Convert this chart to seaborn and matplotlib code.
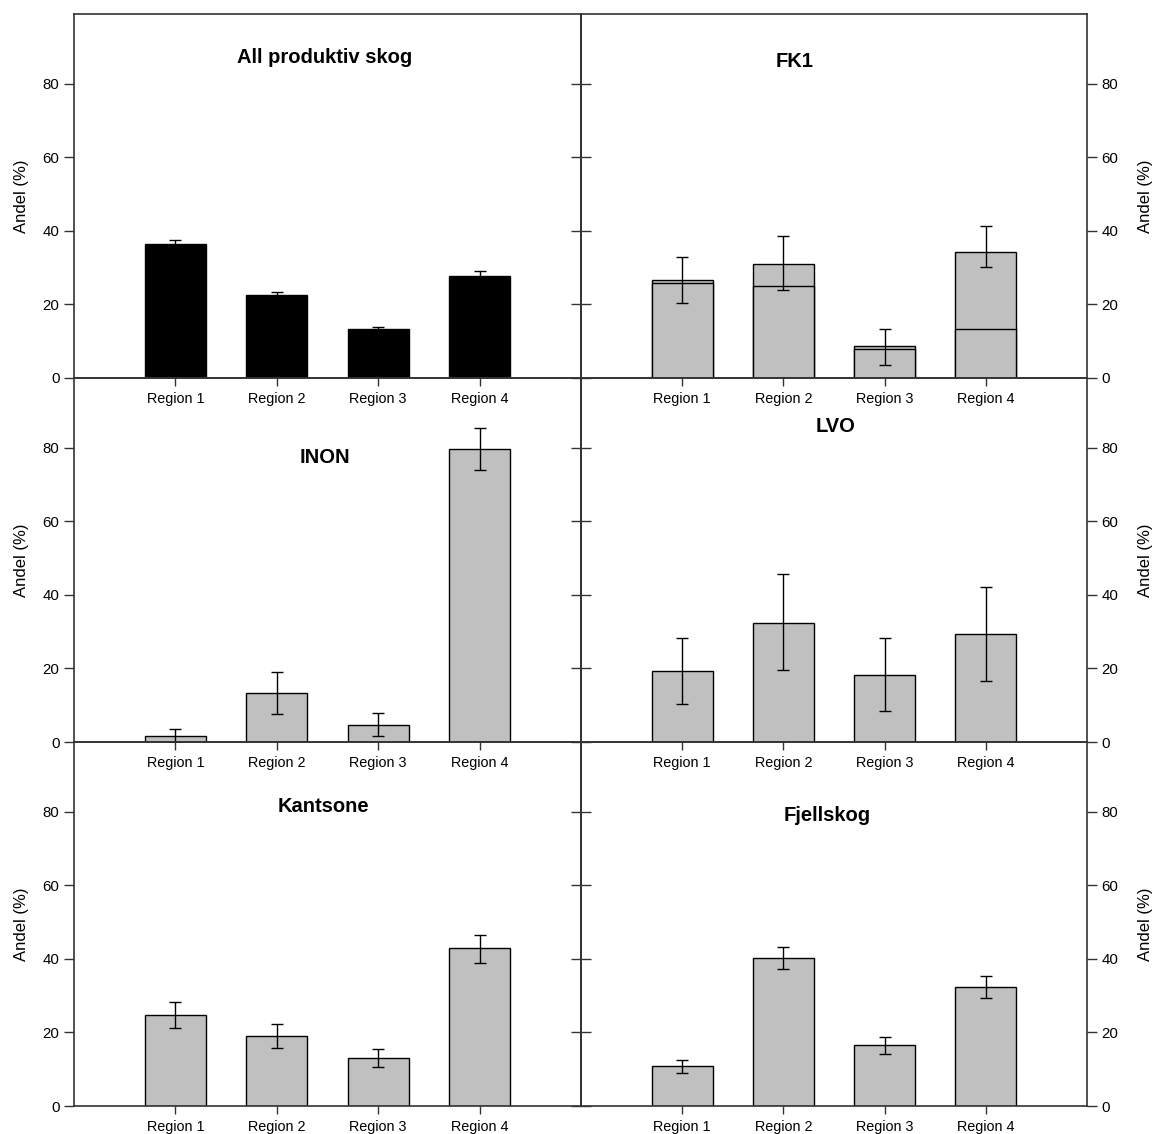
import numpy as np
import matplotlib
matplotlib.use("Agg")
import matplotlib.pyplot as plt
import seaborn as sns

# ---------------- data ----------------
regions = ["Region 1", "Region 2", "Region 3", "Region 4"]

all_vals = [36.5, 22.6, 13.3, 27.8]
all_lo = [35.6, 21.8, 12.8, 26.8]
all_hi = [37.5, 23.4, 13.9, 29.0]

fk1_vals = [26.7, 31.0, 8.6, 34.4]
fk1_inner = [25.8, 24.9, 8.0, 13.4]
fk1_lo = [20.3, 23.9, 3.6, 30.2]
fk1_hi = [32.8, 38.5, 13.3, 41.3]

inon_vals = [1.7, 13.4, 4.6, 79.7]
inon_lo = [0.0, 7.7, 1.5, 73.9]
inon_hi = [3.45, 19.1, 7.9, 85.5]

lvo_vals = [19.3, 32.5, 18.3, 29.4]
lvo_lo = [10.3, 19.6, 8.4, 16.7]
lvo_hi = [28.4, 45.8, 28.2, 42.1]

kant_vals = [24.8, 19.0, 13.0, 42.9]
kant_lo = [21.2, 15.9, 10.5, 39.0]
kant_hi = [28.4, 22.4, 15.6, 46.5]

fjell_vals = [10.8, 40.2, 16.7, 32.5]
fjell_lo = [9.0, 37.2, 14.2, 29.5]
fjell_hi = [12.4, 43.3, 18.9, 35.4]

titles = ["All produktiv skog", "FK1", "INON", "LVO", "Kantsone", "Fjellskog"]
yticks = [0, 20, 40, 60, 80]
ylabel = "Andel (%)"

# ---------------- style ----------------
sns.set_theme(style="white")
plt.rcParams["font.family"] = ["Liberation Sans", "DejaVu Sans"]
LINE = "#333333"
GRAY = "#c0c0c0"

fig = plt.figure(figsize=(11.52, 11.34), dpi=100)
fig.patch.set_facecolor("white")

W = 1152.0
H = 1134.0
col_x = [74 / W, 581 / W]
col_w = [507 / W, 506 / W]
row_top = [14, 378, 742]
row_h = 364

panels = [
    (all_vals, all_lo, all_hi, None, "black", (1.475, 87.1)),
    (fk1_vals, fk1_lo, fk1_hi, fk1_inner, GRAY, (1.115, 86.0)),
    (inon_vals, inon_lo, inon_hi, None, GRAY, (1.47, 77.3)),
    (lvo_vals, lvo_lo, lvo_hi, None, GRAY, (1.52, 85.7)),
    (kant_vals, kant_lo, kant_hi, None, GRAY, (1.456, 81.4)),
    (fjell_vals, fjell_lo, fjell_hi, None, GRAY, (1.43, 78.9)),
]

for i, (vals, lo, hi, inner, color, tpos) in enumerate(panels):
    r, c = divmod(i, 2)
    bottom = 1 - (row_top[r] + row_h) / H
    ax = fig.add_axes([col_x[c], bottom, col_w[c], row_h / H])
    ax.set_facecolor("none")

    sns.barplot(x=regions, y=vals, color=color, saturation=1, width=0.6,
                edgecolor="black", linewidth=1.0, errorbar=None, ax=ax, zorder=2)
    n_outer = len(ax.patches)
    if inner is not None:
        sns.barplot(x=regions, y=inner, color=color, saturation=1, width=0.6,
                    edgecolor="black", linewidth=1.0, errorbar=None, ax=ax, zorder=2)

    centers = [p.get_x() + p.get_width() / 2 for p in ax.patches[:n_outer]]
    v = np.array(vals)
    yerr = [v - np.array(lo), np.array(hi) - v]
    ax.errorbar(centers, v, yerr=yerr, fmt="none", ecolor="black",
                elinewidth=1.0, capsize=4.5, capthick=1.0, zorder=3)

    ax.set_xlim(-1, 4)
    ax.set_ylim(0, 99)
    ax.set_yticks(yticks)
    ax.set_yticklabels([str(t) for t in yticks])
    ax.set_xlabel("")

    for s in ax.spines.values():
        s.set_visible(True)
        s.set_color(LINE)
        s.set_linewidth(1.2)

    ax.tick_params(axis="x", bottom=True, top=False, direction="out", length=6,
                   width=1.0, color=LINE, labelsize=10.4, labelcolor="black", pad=4)
    if c == 0:
        ax.tick_params(axis="y", left=True, right=False, direction="out", length=7,
                       width=1.0, color=LINE, labelsize=10.8, labelcolor="black",
                       labelleft=True, labelright=False)
        ax.set_ylabel(ylabel, fontsize=12, color="black", labelpad=10)
    else:
        ax.yaxis.tick_right()
        ax.yaxis.set_label_position("right")
        ax.tick_params(axis="y", left=False, right=True, direction="out", length=7,
                       width=1.0, color=LINE, labelsize=10.8, labelcolor="black",
                       labelleft=False, labelright=True)
        ax.set_ylabel(ylabel, fontsize=12, color="black", labelpad=14)
        sec = ax.secondary_yaxis("left")
        sec.set_yticks(yticks)
        sec.tick_params(axis="y", direction="inout", length=14, width=1.0,
                        color=LINE, labelleft=False)
        sec.spines["left"].set_color(LINE)
        sec.spines["left"].set_linewidth(1.2)

    ax.text(tpos[0], tpos[1], titles[i], ha="center", va="center",
            fontsize=14.5, fontweight="bold", color="black", zorder=4)

fig.savefig("out.png", dpi=100, facecolor="white")
